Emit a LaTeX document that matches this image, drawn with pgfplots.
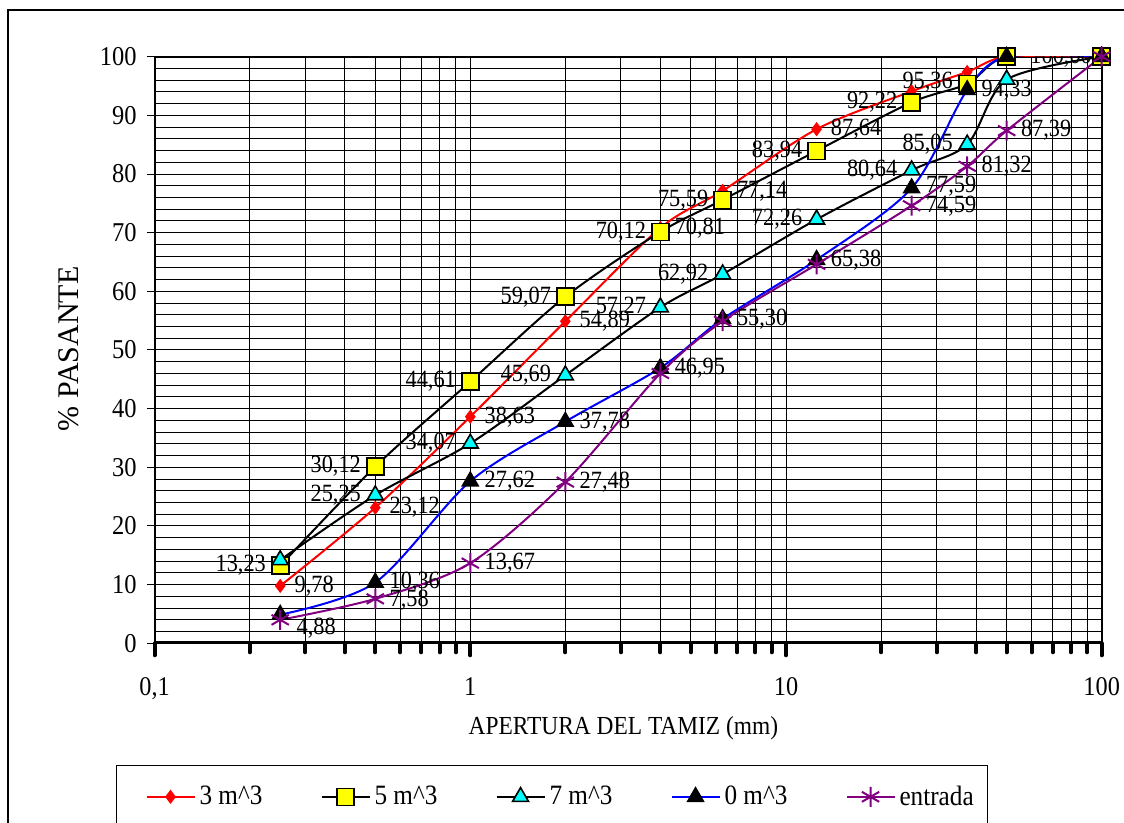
\documentclass[border=0pt]{standalone}
\usepackage{fontspec}
\setmainfont{Liberation Serif}[FakeStretch=0.9]
\newfontfamily\plainserif{Liberation Serif}
\usepackage{pgfplots}
\pgfplotsset{compat=1.18}
\definecolor{cred}{RGB}{255,0,0}
\definecolor{cblue}{RGB}{0,0,255}
\definecolor{cpurple}{RGB}{128,0,128}
\definecolor{cyellow}{RGB}{255,255,0}
\definecolor{ccyan}{RGB}{0,255,255}
\newcommand\lblfont{\fontsize{12.4}{14}\selectfont}
\newcommand\labW[3]{\node[anchor=west,inner sep=0pt,xshift=7pt,font=\lblfont] at (axis cs:#1,#2) {#3};}
\newcommand\labE[3]{\node[anchor=east,inner sep=0pt,xshift=-7pt,font=\lblfont] at (axis cs:#1,#2) {#3};}
\begin{document}
\begin{tikzpicture}
\path[use as bounding box,clip] (0pt,0pt) rectangle (562pt,411.5pt);
\draw[line width=0.6pt] (4pt,406.5pt) rectangle (700pt,-30pt);
\begin{axis}[
  at={(77.3pt,89.85pt)}, anchor=south west,
  scale only axis, width=473.55pt, height=293.3pt,
  xmode=log, xmin=0.1, xmax=100, ymin=0, ymax=100,
  xtick={0.1,1,10,100}, xticklabels={{0,1},{1},{10},{100}},
  minor xtick={0.2,0.3,0.4,0.5,0.6,0.7,0.8,0.9,2,3,4,5,6,7,8,9,20,30,40,50,60,70,80,90},
  ytick={0,10,...,100}, minor ytick={2,4,...,98},
  grid=both,
  major grid style={draw=black,line width=0.5pt},
  minor grid style={draw=black,line width=0.5pt},
  axis line style={line width=1pt},
  tick align=outside, tick pos=left,
  major tick length=6pt, minor tick length=4.5pt,
  x tick style={line width=2pt,line cap=round,black},
  y tick style={line width=0.5pt,black,xshift=2pt},
  minor y tick style={draw=none},
  /pgf/number format/assume math mode=true,
  yticklabel style={font=\fontsize{13.6}{16}\selectfont,anchor=east,inner sep=0pt,xshift=-2.8pt},
  xticklabel style={font=\fontsize{13.5}{15}\selectfont,anchor=north,inner sep=0pt,yshift=-11pt},
  xlabel={APERTURA DEL TAMIZ (mm)}, ylabel={\% PASANTE},
  xlabel style={font=\fontsize{13}{15}\selectfont,at={(axis description cs:0.495,-0.1445)},anchor=center},
  ylabel style={font=\plainserif\fontsize{15}{17}\selectfont,at={(axis description cs:-0.0905,0.502)},anchor=center},
  legend style={at={(axis description cs:-0.0408,-0.2075)},anchor=north west,draw=black,line width=0.6pt,
    inner xsep=14.5pt,inner ysep=8pt,font=\fontsize{14}{16}\selectfont,
    /tikz/every even column/.append style={column sep=8.5pt}},
  legend columns=5, legend cell align=left,
  legend image code/.code={\draw[mark repeat=2,mark phase=2,#1] plot coordinates {(0pt,0pt) (12pt,0pt) (24pt,0pt)};},
]
\addplot[smooth,color=cred,line width=1pt,mark=diamond*,mark size=2.75pt,mark options={fill=cred,draw=cred}] coordinates {
 (0.25,9.78) (0.5,23.12) (1,38.63) (2,54.89) (4,70.81) (6.3,77.14) (12.5,87.64) (25,94.1) (37.5,97.4) (50,100) (100,100)};
\addlegendentry{\makebox[50pt][l]{3 m\textasciicircum 3}}
\addplot[smooth,color=black,line width=1pt,mark=square*,mark size=4.25pt,mark options={fill=cyellow,draw=black,line width=0.8pt}] coordinates {
 (0.25,13.23) (0.5,30.12) (1,44.61) (2,59.07) (4,70.12) (6.3,75.59) (12.5,83.94) (25,92.22) (37.5,95.36) (50,100) (100,100)};
\addlegendentry{\makebox[50pt][l]{5 m\textasciicircum 3}}
\addplot[smooth,color=black,line width=1pt,mark=triangle*,mark size=4.6pt,mark options={fill=ccyan,draw=black,line width=0.8pt}] coordinates {
 (0.25,14.2) (0.5,25.25) (1,34.07) (2,45.69) (4,57.27) (6.3,62.92) (12.5,72.26) (25,80.64) (37.5,85.05) (50,96.1) (100,100)};
\addlegendentry{\makebox[50pt][l]{7 m\textasciicircum 3}}
\addplot[smooth,color=cblue,line width=1pt,mark=triangle*,mark size=4.3pt,mark options={fill=black,draw=black}] coordinates {
 (0.25,4.88) (0.5,10.36) (1,27.62) (2,37.78) (4,46.95) (6.3,55.30) (12.5,65.38) (25,77.59) (37.5,94.33) (50,100) (100,100)};
\addlegendentry{\makebox[50pt][l]{0 m\textasciicircum 3}}
\addplot[smooth,color=cpurple,line width=1pt,mark=asterisk,mark size=5pt,mark options={draw=cpurple,line width=1pt}] coordinates {
 (0.25,4.0) (0.5,7.58) (1,13.67) (2,27.48) (4,46.0) (6.3,54.9) (12.5,64.6) (25,74.59) (37.5,81.32) (50,87.39) (100,100)};
\addlegendentry{\makebox[27.5pt][l]{entrada}}
\draw[line width=2.5pt] (rel axis cs:0,0) -- (rel axis cs:1,0);
\labW{0.25}{9.78}{9,78}
\labE{0.25}{13.23}{13,23}
\node[anchor=west,inner sep=0pt,xshift=8pt,font=\lblfont] at (axis cs:0.25,2.6) {4,88};
\labE{0.5}{30.12}{30,12}
\labE{0.5}{25.25}{25,25}
\labW{0.5}{23.12}{23,12}
\labW{0.5}{10.36}{10,36}
\labW{0.5}{7.4}{7,58}
\labE{1}{44.61}{44,61}
\labW{1}{38.63}{38,63}
\labE{1}{34.07}{34,07}
\labW{1}{27.62}{27,62}
\labW{1}{13.67}{13,67}
\labE{2}{59.07}{59,07}
\labW{2}{54.89}{54,89}
\labE{2}{45.69}{45,69}
\labW{2}{37.78}{37,78}
\labW{2}{27.48}{27,48}
\labE{4}{70.12}{70,12}
\labW{4}{70.81}{70,81}
\labE{4}{57.27}{57,27}
\labW{4}{46.95}{46,95}
\labE{6.3}{75.59}{75,59}
\labW{6.3}{77.14}{77,14}
\labE{6.3}{62.92}{62,92}
\labW{6.3}{55.30}{55,30}
\labE{12.5}{83.94}{83,94}
\labW{12.5}{87.64}{87,64}
\labE{12.5}{72.26}{72,26}
\labW{12.5}{65.38}{65,38}
\labE{25}{92.22}{92,22}
\labE{25}{80.64}{80,64}
\labW{25}{77.9}{77,59}
\labW{25}{74.59}{74,59}
\labE{37.5}{95.6}{95,36}
\labE{37.5}{85.05}{85,05}
\labW{37.5}{94.33}{94,33}
\labW{37.5}{81.32}{81,32}
\labW{50}{87.39}{87,39}
\node[anchor=west,inner sep=0pt,font=\lblfont] at (axis cs:59.3,100) {100,00};
\end{axis}
\end{tikzpicture}
\end{document}
